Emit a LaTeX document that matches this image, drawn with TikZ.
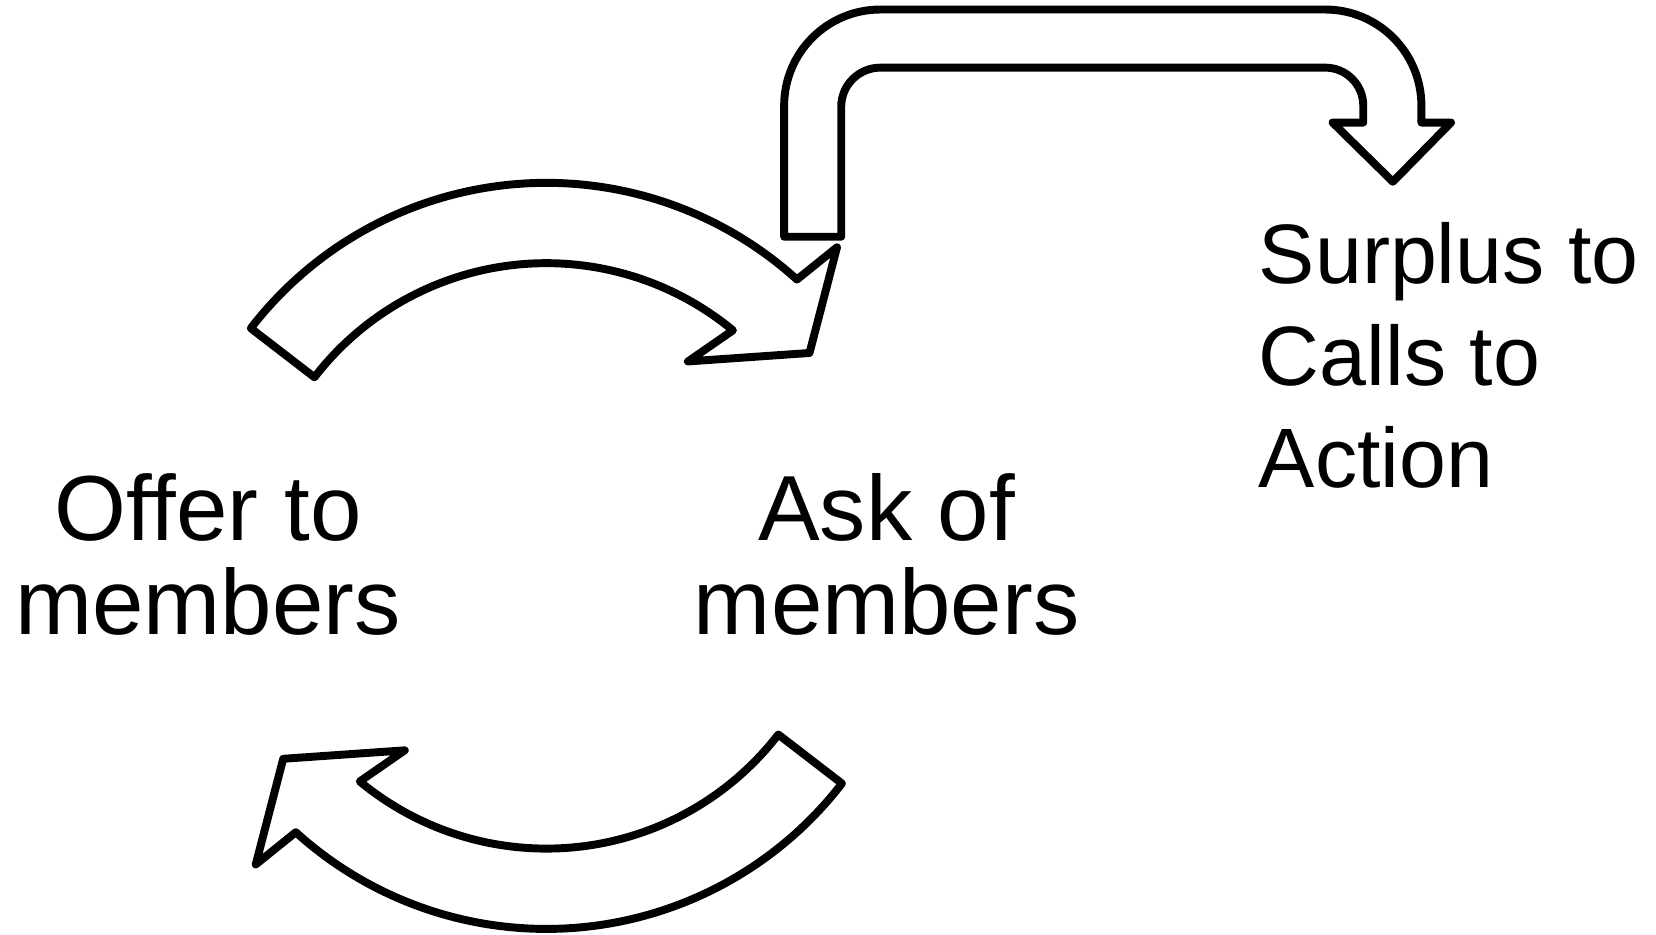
\documentclass[tikz,border=0pt]{standalone}
\usepackage{fontspec}
\setmainfont{Liberation Sans}
\usetikzlibrary{calc}
\begin{document}
\begin{tikzpicture}[x=1pt,y=-1pt,
  blockarrow/.style={draw=black, fill=white, line width=7.5pt, line join=round},
  biglbl/.style={inner sep=0pt, align=center, font=\fontsize{87.5}{89}\selectfont},
  sidelbl/.style={inner sep=0pt, align=left, font=\fontsize{79.8}{96.5}\selectfont}]
\useasboundingbox (0,0) rectangle (1567,884);
\coordinate (C) at (517,526);
% upper curved arrow
\path[blockarrow] ($(C)+(-142.4:353)$) arc[start angle=-142.4, end angle=-47.8, radius=353]
  -- (792,234) -- (766,334) -- (651,342)
  -- ($(C)+(-50.4:277)$) arc[start angle=-50.4, end angle=-142.4, radius=277] -- cycle;
% lower curved arrow
\begin{scope}[rotate around={180:(C)}]
\path[blockarrow] ($(C)+(-142.4:353)$) arc[start angle=-142.4, end angle=-47.8, radius=353]
  -- (792,234) -- (766,334) -- (651,342)
  -- ($(C)+(-50.4:277)$) arc[start angle=-50.4, end angle=-142.4, radius=277] -- cycle;
\end{scope}
% bent arrow
\path[blockarrow] (742,224) -- (742,100) arc[start angle=180, end angle=270, radius=91]
  -- (1254,9) arc[start angle=-90, end angle=0, radius=91]
  -- (1345,116) -- (1373,116) -- (1318,172) -- (1261,116) -- (1290,116) -- (1290,100)
  arc[start angle=0, end angle=-90, radius=36]
  -- (833,64) arc[start angle=270, end angle=180, radius=37]
  -- (796,224) -- cycle;
% labels
\node[biglbl, anchor=base] (offer) at (197,600) {Offer to\\members};
\node[biglbl, anchor=base] (ask) at (839,600) {Ask of\\members};
\node[sidelbl, anchor=base west] (surplus) at (1191,461) {Surplus to\\Calls to\\Action};
\end{tikzpicture}
\end{document}
